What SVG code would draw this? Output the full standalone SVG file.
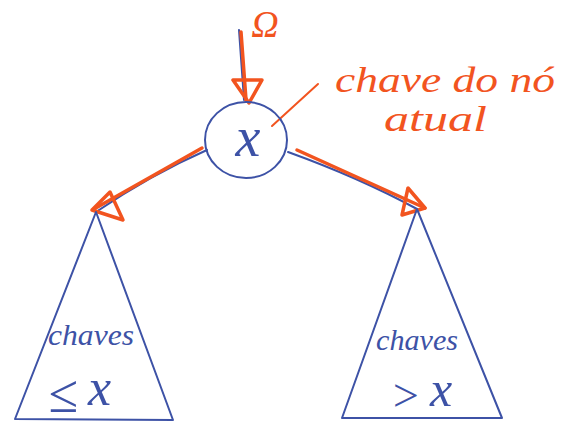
<svg xmlns="http://www.w3.org/2000/svg" width="572" height="430" viewBox="0 0 572 430">
  <style>
    .ink { fill: none; stroke: #3d52a6; stroke-width: 2; stroke-linecap: round; stroke-linejoin: round; }
    .pen { fill: none; stroke: #f2541f; stroke-width: 3.5; stroke-linecap: round; stroke-linejoin: round; }
    .thin { fill: none; stroke: #f2541f; stroke-width: 2; stroke-linecap: round; }
    .blue { fill: #3d52a6; font-family: "Liberation Serif", serif; font-style: italic; }
    .orange { fill: #f2541f; font-family: "Liberation Serif", serif; font-style: italic; }
  </style>
  <rect width="572" height="430" fill="#ffffff"/>

  <!-- connectors: tree edges in blue with the orange search path over them -->
  <g id="connectors">
    <path class="ink" d="M239 30 L244 100"/>
    <path class="ink" d="M207 150 Q150 175 96 212"/>
    <path class="ink" d="M288 152 Q360 178 417 209"/>
    <path class="pen" d="M241 32 L246 100"/>
    <polygon class="pen" points="233,80 262,80 249,103"/>
    <path class="pen" d="M202 148 L94 209"/>
    <polygon class="pen" points="92,210 110,192 123,220"/>
    <path class="pen" d="M297 150 L425 208"/>
    <polygon class="pen" points="425,208 408,188 402,215"/>
    <path class="thin" d="M318 84 L272 126"/>
  </g>

  <!-- current node -->
  <g id="node-x">
    <ellipse class="ink" cx="246" cy="140" rx="41" ry="38"/>
    <text class="blue" x="248" y="156" font-size="56" text-anchor="middle">x</text>
  </g>

  <!-- root pointer label -->
  <g id="label-root">
    <text class="orange" x="265" y="37" font-size="38" text-anchor="middle" font-style="normal">Ω</text>
  </g>

  <!-- annotation -->
  <g id="label-key">
    <text class="orange" x="335" y="92" font-size="36" textLength="220" lengthAdjust="spacingAndGlyphs">chave do nó</text>
    <text class="orange" x="384" y="131" font-size="36" textLength="103" lengthAdjust="spacingAndGlyphs">atual</text>
  </g>

  <!-- left subtree -->
  <g id="subtree-left">
    <polygon class="ink" points="96,212 15,419 173,420"/>
    <text class="blue" x="48" y="345" font-size="30" textLength="86" lengthAdjust="spacingAndGlyphs">chaves</text>
    <text class="blue" x="48" y="412" font-size="54" font-style="normal">≤</text>
    <text class="blue" x="88" y="405" font-size="52">x</text>
  </g>

  <!-- right subtree -->
  <g id="subtree-right">
    <polygon class="ink" points="417,209 342,418 502,418"/>
    <text class="blue" x="376" y="350" font-size="30" textLength="82" lengthAdjust="spacingAndGlyphs">chaves</text>
    <text class="blue" x="390" y="411" font-size="46" font-style="normal">&gt;</text>
    <text class="blue" x="430" y="406" font-size="50">x</text>
  </g>
</svg>
